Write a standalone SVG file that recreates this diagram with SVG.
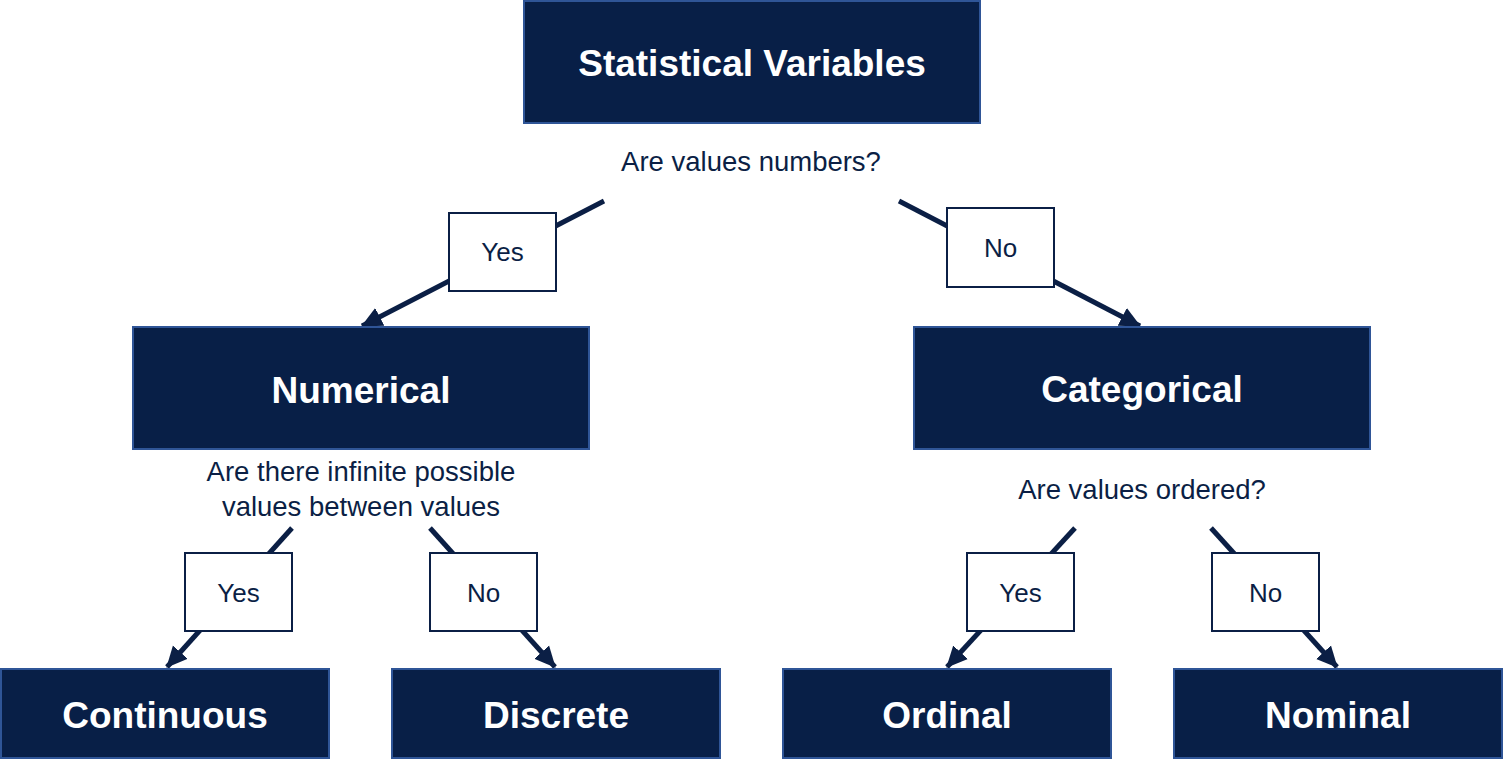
<svg xmlns="http://www.w3.org/2000/svg" width="1504" height="760" viewBox="0 0 1504 760">
<style>
.node{fill:#081f47;stroke:#2f5597;stroke-width:2}
.nt{font-family:"Liberation Sans",Arial,sans-serif;font-weight:bold;font-size:37px;fill:#ffffff;text-anchor:middle}
.q{font-family:"Liberation Sans",Arial,sans-serif;font-size:27.5px;fill:#0b1f45;text-anchor:middle}
.lb{fill:#ffffff;stroke:#0b1f45;stroke-width:2}
.lt{font-family:"Liberation Sans",Arial,sans-serif;font-size:26px;fill:#0b1f45;text-anchor:middle}
.edge{stroke:#0b1f45;stroke-width:5;fill:none;marker-end:url(#ah)}
</style>
<defs>
<marker id="ah" markerUnits="userSpaceOnUse" markerWidth="22" markerHeight="22" viewBox="0 0 22 22" refX="20" refY="11" orient="auto">
<path d="M0,1 L21,11 L0,21 Z" fill="#0b1f45"/>
</marker>
</defs>
<rect width="1504" height="760" fill="#ffffff"/>
<g id="connectors">
<path class="edge" d="M604,201 L362,326"/>
<path class="edge" d="M899,201 L1140,326"/>
<path class="edge" d="M292,528 L167,667"/>
<path class="edge" d="M430,528 L555,667"/>
<path class="edge" d="M1075,528 L947,667"/>
<path class="edge" d="M1211,528 L1337,667"/>
</g>
<g id="node-statistical-variables">
<rect class="node" x="524" y="1" width="456" height="122"/>
<text class="nt" x="752" y="76">Statistical Variables</text>
</g>
<text class="q" x="751" y="171">Are values numbers?</text>
<g id="label-yes-1">
<rect class="lb" x="449" y="213" width="107" height="78"/>
<text class="lt" x="502.5" y="261">Yes</text>
</g>
<g id="label-no-1">
<rect class="lb" x="947" y="208" width="107" height="79"/>
<text class="lt" x="1000.5" y="257">No</text>
</g>
<g id="node-numerical">
<rect class="node" x="133" y="327" width="456" height="122"/>
<text class="nt" x="361" y="403">Numerical</text>
</g>
<g id="node-categorical">
<rect class="node" x="914" y="327" width="456" height="122"/>
<text class="nt" x="1142" y="402">Categorical</text>
</g>
<text class="q" x="361" y="481">Are there infinite possible</text>
<text class="q" x="361" y="516">values between values</text>
<text class="q" x="1142" y="499">Are values ordered?</text>
<g id="label-yes-2">
<rect class="lb" x="185" y="553" width="107" height="78"/>
<text class="lt" x="238.5" y="602">Yes</text>
</g>
<g id="label-no-2">
<rect class="lb" x="430" y="553" width="107" height="78"/>
<text class="lt" x="483.5" y="602">No</text>
</g>
<g id="label-yes-3">
<rect class="lb" x="967" y="553" width="107" height="78"/>
<text class="lt" x="1020.5" y="602">Yes</text>
</g>
<g id="label-no-3">
<rect class="lb" x="1212" y="553" width="107" height="78"/>
<text class="lt" x="1265.5" y="602">No</text>
</g>
<g id="node-continuous">
<rect class="node" x="1" y="669" width="328" height="89"/>
<text class="nt" x="165" y="728">Continuous</text>
</g>
<g id="node-discrete">
<rect class="node" x="392" y="669" width="328" height="89"/>
<text class="nt" x="556" y="728">Discrete</text>
</g>
<g id="node-ordinal">
<rect class="node" x="783" y="669" width="328" height="89"/>
<text class="nt" x="947" y="728">Ordinal</text>
</g>
<g id="node-nominal">
<rect class="node" x="1174" y="669" width="328" height="89"/>
<text class="nt" x="1338" y="728">Nominal</text>
</g>
</svg>
